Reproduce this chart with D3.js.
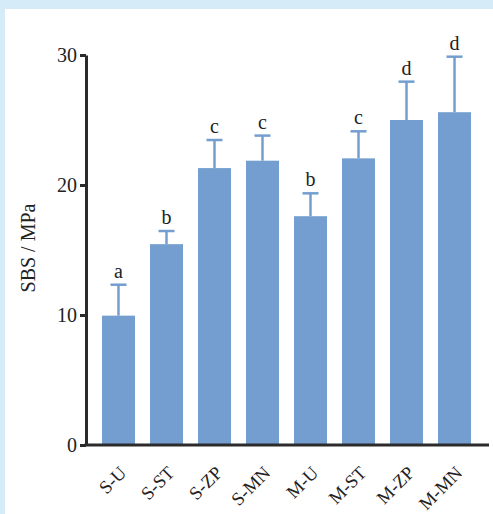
<!DOCTYPE html>
<html><head><meta charset="utf-8">
<script src="https://cdn.jsdelivr.net/npm/d3@7"></script>
<style>
html,body{margin:0;padding:0;background:#d5ebf8;}
svg{display:block;}
</style></head>
<body>
<script>
const categories = ["S-U","S-ST","S-ZP","S-MN","M-U","M-ST","M-ZP","M-MN"];
const means = [9.95, 15.45, 21.3, 21.87, 17.6, 22.05, 25.0, 25.6];
const sds = [2.38, 1.01, 2.16, 1.93, 1.76, 2.08, 2.95, 4.27];
const letters = ["a","b","c","c","b","c","d","d"];
const yTicks = [0, 10, 20, 30];
const yLabel = "SBS / MPa";

const W = 493, H = 514;
const svg = d3.select("body").append("svg").attr("width", W).attr("height", H);
svg.append("rect").attr("x",0).attr("y",0).attr("width",W).attr("height",H).attr("fill","#d5ebf8");
svg.append("rect").attr("x",5).attr("y",9).attr("width",W-5).attr("height",H-9).attr("fill","#ffffff");

const font = "'Liberation Serif','Times New Roman',serif";
const barColor = "#739ecf";
const axisColor = "#2b2b2b";

const y = d3.scaleLinear().domain([0,30]).range([445,55]);
const x = d3.scaleBand().domain(categories).range([86,487]).paddingInner(0.3125).paddingOuter(0.333);

const g = svg.append("g");

// bars
g.selectAll("rect.bar").data(categories).join("rect")
  .attr("class","bar")
  .attr("x", d => x(d))
  .attr("width", x.bandwidth())
  .attr("y", (d,i) => y(means[i]))
  .attr("height", (d,i) => y(0) - y(means[i]))
  .attr("fill", barColor);

// error bars
g.selectAll("line.err").data(categories).join("line")
  .attr("x1", d => x(d) + x.bandwidth()/2)
  .attr("x2", d => x(d) + x.bandwidth()/2)
  .attr("y1", (d,i) => y(means[i]))
  .attr("y2", (d,i) => y(means[i] + sds[i]))
  .attr("stroke", barColor).attr("stroke-width", 2.5);
g.selectAll("line.cap").data(categories).join("line")
  .attr("x1", d => x(d) + x.bandwidth()/2 - 8)
  .attr("x2", d => x(d) + x.bandwidth()/2 + 8)
  .attr("y1", (d,i) => y(means[i] + sds[i]))
  .attr("y2", (d,i) => y(means[i] + sds[i]))
  .attr("stroke", barColor).attr("stroke-width", 2.5);

// significance letters
g.selectAll("text.sig").data(categories).join("text")
  .attr("x", d => x(d) + x.bandwidth()/2)
  .attr("y", (d,i) => y(means[i] + sds[i]) - 7)
  .attr("text-anchor","middle")
  .attr("font-family", font).attr("font-size", 20).attr("fill","#222")
  .text((d,i) => letters[i]);

// y axis
const yAxis = svg.append("g").attr("transform","translate(86,0)")
  .call(d3.axisLeft(y).tickValues(yTicks).tickSize(6).tickSizeOuter(0).tickPadding(3));
yAxis.select(".domain").attr("stroke", axisColor).attr("stroke-width", 3);
yAxis.selectAll(".tick line").attr("stroke", axisColor).attr("stroke-width", 3);
yAxis.selectAll(".tick text").attr("font-family", font).attr("font-size", 20).attr("fill","#222");

// x axis line
svg.append("line").attr("x1", 84.5).attr("x2", 489).attr("y1", y(0)).attr("y2", y(0))
  .attr("stroke", axisColor).attr("stroke-width", 3);

// x labels
svg.selectAll("text.xl").data(categories).join("text")
  .attr("transform", d => `translate(${x(d) + x.bandwidth()/2 + 9},${y(0) + 29}) rotate(-45)`)
  .attr("text-anchor","end")
  .attr("font-family", font).attr("font-size", 18.5).attr("fill","#222")
  .text(d => d);

// y label
svg.append("text")
  .attr("transform", `translate(35,${(y(0)+y(30))/2 - 2}) rotate(-90)`)
  .attr("text-anchor","middle")
  .attr("font-family", font).attr("font-size", 20).attr("fill","#222")
  .text(yLabel);
</script>
</body></html>
